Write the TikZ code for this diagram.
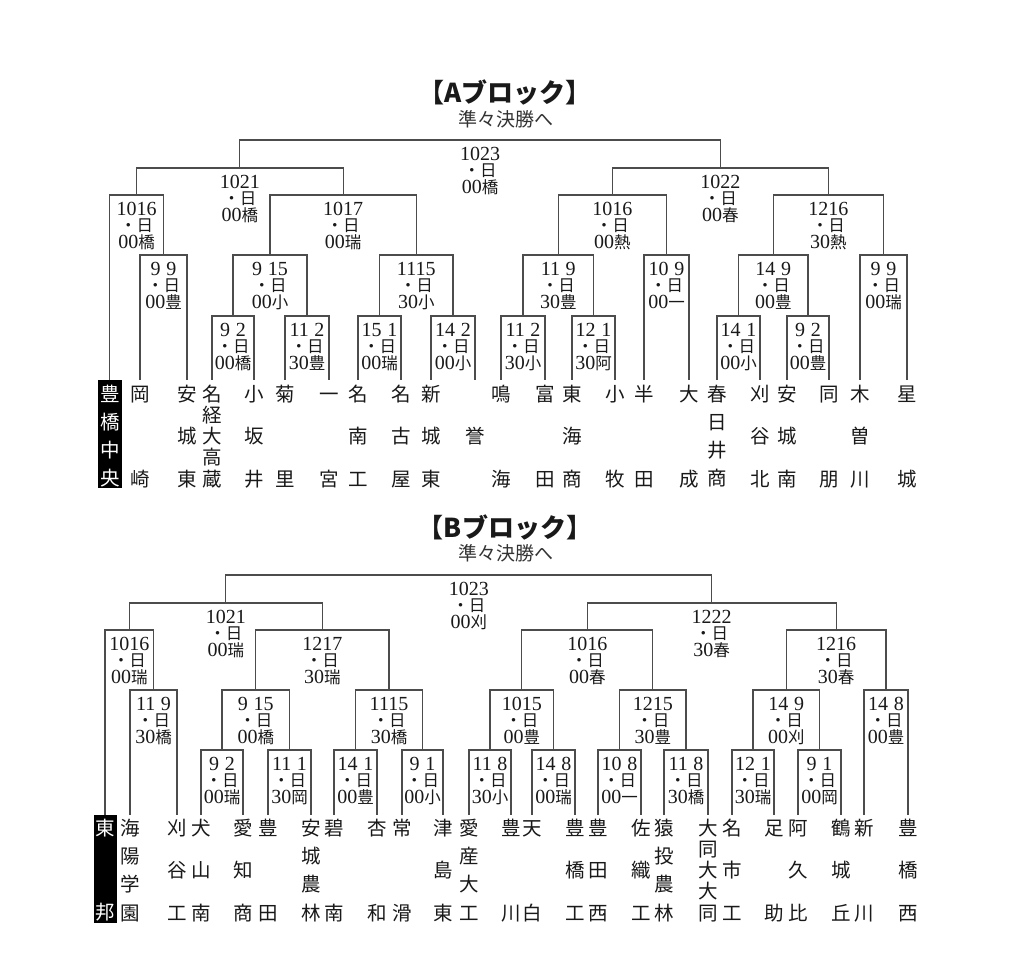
\documentclass[tikz,border=0pt]{standalone}
\usepackage{fontspec}
\setmainfont{Liberation Serif}
\newfontfamily\jp{Noto Sans CJK JP}
\newcommand\digf{\fontsize{20}{20}\selectfont\rmfamily}
\newcommand\labj{\fontsize{16.5}{16.5}\selectfont\jp}
\newcommand\ctr[1]{\hbox to 0pt{\hss#1\hss}}
\newcommand\gp{\hspace{0.28em}}
\def\splitc#1{\ifx\relax#1\else\ctr{#1}\expandafter\splitc\fi}
\newcommand\mlab[3]{\vtop{\baselineskip=16.5pt\relax\lineskiplimit=-\maxdimen\lineskip=0pt\relax\ctr{\digf #1}\ctr{\labj ・日}\ctr{\digf #2\labj #3}}}
\newcommand\tnm[2]{\vtop{\baselineskip=#1pt\relax\lineskiplimit=-\maxdimen\lineskip=0pt\relax\splitc#2\relax}}
\tikzset{
  br/.style={draw=black!70, line width=1.15pt},
  mlabel/.style={inner sep=0pt, anchor=base, text=black!90},
  tname/.style={inner sep=0pt, anchor=base, font=\fontsize{19.5}{19.5}\selectfont\jp, text=black!90},
  ttl/.style={font=\fontsize{26}{26}\selectfont\jp\bfseries, inner sep=0pt, text=black!90},
  subt/.style={font=\fontsize{19}{19}\selectfont\jp, inner sep=0pt, text=black!80},
  blk/.style={fill=black, inner sep=0pt, minimum width=24pt, minimum height=108pt, anchor=north}
}
% team: id, x, leg y, base y, pitch, chars
\newcommand\tteam[6]{\coordinate (t#1) at (#2,#3);
  \node[tname] (n#1) at (#2,#4) {\tnm{#5}{#6}};}
% match: id, x, y, left child, right child, date, time, kanji
\newcommand\mtch[8]{\coordinate (m#1) at (#2,#3);
  \draw[br] (#4) |- (m#1) -| (#5);
  \node[mlabel] (l#1) at ([yshift=-20pt]m#1) {\mlab{#6}{#7}{#8}};}
\begin{document}
\begin{tikzpicture}[x=1pt,y=-1pt]
\fill[white] (0,0) rectangle (1024,977);
\useasboundingbox (0,0) rectangle (1024,977);

% ---------- A block ----------
\node[ttl] (titleA) at (505,92) {【Aブロック】};
\node[subt] (subA) at (506,119) {準々決勝へ};

\node[blk] (bA) at (110,380) {};
\coordinate (tA1) at (109.5,380);
\node[tname,text=white] (nA1) at (110,401) {\tnm{28.33}{豊橋中央}};
\tteam{A2}{140}{380}{401}{85}{岡崎}
\tteam{A3}{187}{380}{401}{42.5}{安城東}
\tteam{A4}{212}{380}{401}{21.25}{名経大高蔵}
\tteam{A5}{254}{380}{401}{42.5}{小坂井}
\tteam{A6}{285}{380}{401}{85}{菊里}
\tteam{A7}{329}{380}{401}{85}{一宮}
\tteam{A8}{358}{380}{401}{42.5}{名南工}
\tteam{A9}{401}{380}{401}{42.5}{名古屋}
\tteam{A10}{431}{380}{401}{42.5}{新城東}
\tteam{A11}{475}{380}{443.5}{85}{誉}
\tteam{A12}{501}{380}{401}{85}{鳴海}
\tteam{A13}{545}{380}{401}{85}{富田}
\tteam{A14}{572}{380}{401}{42.5}{東海商}
\tteam{A15}{615}{380}{401}{85}{小牧}
\tteam{A16}{644}{380}{401}{85}{半田}
\tteam{A17}{689}{380}{401}{85}{大成}
\tteam{A18}{717}{380}{401}{28.33}{春日井商}
\tteam{A19}{760}{380}{401}{42.5}{刈谷北}
\tteam{A20}{787}{380}{401}{42.5}{安城南}
\tteam{A21}{829}{380}{401}{85}{同朋}
\tteam{A22}{860}{380}{401}{42.5}{木曽川}
\tteam{A23}{907}{380}{401}{85}{星城}

\mtch{A99}{163.5}{255}{tA2}{tA3}{9\gp 9}{00}{豊}
\mtch{A92}{233}{316}{tA4}{tA5}{9\gp 2}{00}{橋}
\mtch{A112}{307}{316}{tA6}{tA7}{11\gp 2}{30}{豊}
\mtch{A151}{379.5}{316}{tA8}{tA9}{15\gp 1}{00}{瑞}
\mtch{A142}{453}{316}{tA10}{tA11}{14\gp 2}{00}{小}
\mtch{A112R}{523}{316}{tA12}{tA13}{11\gp 2}{30}{小}
\mtch{A121}{593.5}{316}{tA14}{tA15}{12\gp 1}{30}{阿}
\mtch{A109}{666.5}{255}{tA16}{tA17}{10\gp 9}{00}{一}
\mtch{A141}{738.5}{316}{tA18}{tA19}{14\gp 1}{00}{小}
\mtch{A92R}{808}{316}{tA20}{tA21}{9\gp 2}{00}{豊}
\mtch{A99R}{883.5}{255}{tA22}{tA23}{9\gp 9}{00}{瑞}
\mtch{A1016}{136.5}{195}{tA1}{mA99}{1016}{00}{橋}
\mtch{A915}{270}{255}{mA92}{mA112}{9\gp 15}{00}{小}
\mtch{A1115}{416.25}{255}{mA151}{mA142}{1115}{30}{小}
\mtch{A1017}{343.1}{195}{mA915}{mA1115}{1017}{00}{瑞}
\mtch{A1021}{239.8}{168}{mA1016}{mA1017}{1021}{00}{橋}
\mtch{A119}{558.25}{255}{mA112R}{mA121}{11\gp 9}{30}{豊}
\mtch{A1016R}{612.4}{195}{mA119}{mA109}{1016}{00}{熱}
\mtch{A149}{773.25}{255}{mA141}{mA92R}{14\gp 9}{00}{豊}
\mtch{A1216}{828.4}{195}{mA149}{mA99R}{1216}{30}{熱}
\mtch{A1022}{720.4}{168}{mA1016R}{mA1216}{1022}{00}{春}
\mtch{A1023}{480.1}{140}{mA1021}{mA1022}{1023}{00}{橋}

% ---------- B block ----------
\node[ttl] (titleB) at (505,527) {【Bブロック】};
\node[subt] (subB) at (506,553) {準々決勝へ};

\node[blk, minimum width=23pt] (bB) at (105.5,815) {};
\coordinate (tB1) at (105,815);
\node[tname,text=white] (nB1) at (105.5,835) {\tnm{84}{東邦}};
\tteam{B2}{130}{815}{835}{28.33}{海陽学園}
\tteam{B3}{177}{815}{835}{42.5}{刈谷工}
\tteam{B4}{201}{815}{835}{42.5}{犬山南}
\tteam{B5}{243}{815}{835}{42.5}{愛知商}
\tteam{B6}{268}{815}{835}{85}{豊田}
\tteam{B7}{311}{815}{835}{28.33}{安城農林}
\tteam{B8}{334}{815}{835}{85}{碧南}
\tteam{B9}{377}{815}{835}{85}{杏和}
\tteam{B10}{402}{815}{835}{85}{常滑}
\tteam{B11}{443}{815}{835}{42.5}{津島東}
\tteam{B12}{469}{815}{835}{28.33}{愛産大工}
\tteam{B13}{511}{815}{835}{85}{豊川}
\tteam{B14}{532}{815}{835}{85}{天白}
\tteam{B15}{575}{815}{835}{42.5}{豊橋工}
\tteam{B16}{598}{815}{835}{42.5}{豊田西}
\tteam{B17}{641}{815}{835}{42.5}{佐織工}
\tteam{B18}{664}{815}{835}{28.33}{猿投農林}
\tteam{B19}{708}{815}{835}{21.25}{大同大大同}
\tteam{B20}{732}{815}{835}{42.5}{名市工}
\tteam{B21}{774}{815}{835}{85}{足助}
\tteam{B22}{798}{815}{835}{42.5}{阿久比}
\tteam{B23}{841}{815}{835}{42.5}{鶴城丘}
\tteam{B24}{864}{815}{835}{85}{新川}
\tteam{B25}{908}{815}{835}{42.5}{豊橋西}

\mtch{B119}{153.5}{690}{tB2}{tB3}{11\gp 9}{30}{橋}
\mtch{B92}{222}{750}{tB4}{tB5}{9\gp 2}{00}{瑞}
\mtch{B111}{289.5}{750}{tB6}{tB7}{11\gp 1}{30}{岡}
\mtch{B141}{355.5}{750}{tB8}{tB9}{14\gp 1}{00}{豊}
\mtch{B91}{422.5}{750}{tB10}{tB11}{9\gp 1}{00}{小}
\mtch{B118}{490}{750}{tB12}{tB13}{11\gp 8}{30}{小}
\mtch{B148}{553.5}{750}{tB14}{tB15}{14\gp 8}{00}{瑞}
\mtch{B108}{619.5}{750}{tB16}{tB17}{10\gp 8}{00}{一}
\mtch{B118R}{686}{750}{tB18}{tB19}{11\gp 8}{30}{橋}
\mtch{B121}{753}{750}{tB20}{tB21}{12\gp 1}{30}{瑞}
\mtch{B91R}{819.5}{750}{tB22}{tB23}{9\gp 1}{00}{岡}
\mtch{B148R}{886}{690}{tB24}{tB25}{14\gp 8}{00}{豊}
\mtch{B1016}{129.25}{630}{tB1}{mB119}{1016}{00}{瑞}
\mtch{B915}{255.75}{690}{mB92}{mB111}{9\gp 15}{00}{橋}
\mtch{B1115}{389}{690}{mB141}{mB91}{1115}{30}{橋}
\mtch{B1217}{322.4}{630}{mB915}{mB1115}{1217}{30}{瑞}
\mtch{B1021}{225.8}{603}{mB1016}{mB1217}{1021}{00}{瑞}
\mtch{B1015}{521.75}{690}{mB118}{mB148}{1015}{00}{豊}
\mtch{B1215}{652.75}{690}{mB108}{mB118R}{1215}{30}{豊}
\mtch{B1016R}{587.25}{630}{mB1015}{mB1215}{1016}{00}{春}
\mtch{B149}{786.25}{690}{mB121}{mB91R}{14\gp 9}{00}{刈}
\mtch{B1216}{836.1}{630}{mB149}{mB148R}{1216}{30}{春}
\mtch{B1222}{711.7}{603}{mB1016R}{mB1216}{1222}{30}{春}
\mtch{B1023}{468.75}{575}{mB1021}{mB1222}{1023}{00}{刈}
\end{tikzpicture}
\end{document}
